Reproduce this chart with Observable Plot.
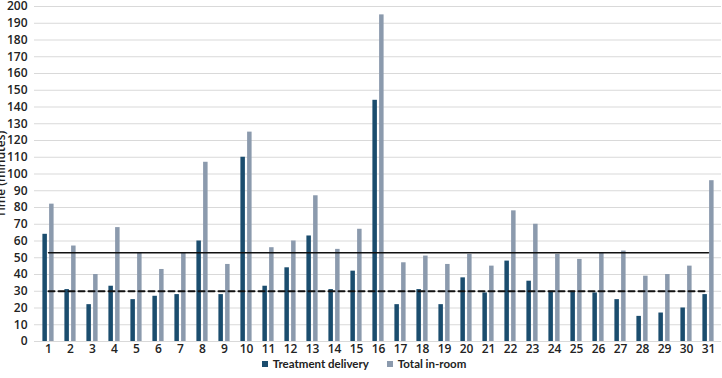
<!DOCTYPE html>
<html>
<head>
<meta charset="utf-8">
<script src="https://cdn.jsdelivr.net/npm/d3@7"></script>
<script src="https://cdn.jsdelivr.net/npm/@observablehq/plot@0.6"></script>
<style>
  html, body { margin: 0; padding: 0; background: #fff; }
  body { width: 722px; height: 378px; overflow: hidden; font-family: "Open Sans", sans-serif; }
  #legend { display: flex; justify-content: center; align-items: center; gap: 18px;
            font-family: Lato, "Open Sans", sans-serif;
            font-size: 11.5px; font-weight: 700; color: #222; line-height: 13px; margin-top: 1px; padding-left: 6px; }
  #legend .item { display: flex; align-items: center; gap: 5px; }
  #legend .sw { width: 6px; height: 6px; display: inline-block; }
</style>
</head>
<body>
<div id="chart"></div>
<div id="legend"></div>
<script>
const categories = ["1","2","3","4","5","6","7","8","9","10","11","12","13","14","15","16","17","18","19","20","21","22","23","24","25","26","27","28","29","30","31"];
const treatmentDelivery = [64,31,22,33,25,27,28,60,28,110,33,44,63,31,42,144,22,31,22,38,29,48,36,30,30,29,25,15,17,20,28];
const totalInRoom = [82,57,40,68,53,43,53,107,46,125,56,60,87,55,67,195,47,51,46,52,45,78,70,52,49,53,54,39,40,45,96];
const meanTotalInRoom = 53;
const meanTreatmentDelivery = 30;
const yTicks = [0,10,20,30,40,50,60,70,80,90,100,110,120,130,140,150,160,170,180,190,200];
const seriesNames = ["Treatment delivery", "Total in-room"];
const colors = ["#1b4d6e", "#8b9aad"];

const rows = categories.map((c, i) => ({c, t: treatmentDelivery[i], r: totalInRoom[i]}));

const chart = Plot.plot({
  width: 722,
  height: 356,
  marginLeft: 34,
  marginRight: 1,
  marginTop: 6,
  marginBottom: 15,
  x: {domain: categories, padding: 0, label: null},
  y: {domain: [0, 200], label: null},
  style: {fontFamily: "Open Sans", fontSize: "12px", fontWeight: 600, color: "#222", background: "#fff"},
  marks: [
    Plot.gridY(yTicks, {stroke: "#d9d9d9", strokeOpacity: 1}),
    Plot.barY(rows, {x: "c", y: "t", fill: colors[0], insetLeft: 5.4, insetRight: 12.1}),
    Plot.barY(rows, {x: "c", y: "r", fill: colors[1], insetLeft: 12.1, insetRight: 5.4}),
    Plot.lineY(rows, {x: "c", y: () => meanTotalInRoom, stroke: "#111", strokeWidth: 1.5}),
    Plot.lineY(rows, {x: "c", y: () => meanTreatmentDelivery, stroke: "#111", strokeWidth: 2, strokeDasharray: "6,4"}),
    Plot.axisY(yTicks, {tickSize: 0, tickPadding: 7, label: "Time (minutes)", labelAnchor: "center", labelArrow: "none", labelOffset: 38}),
    Plot.axisX({tickSize: 0, tickPadding: 3, label: null})
  ]
});
document.getElementById("chart").appendChild(chart);

const legend = document.getElementById("legend");
seriesNames.forEach((name, i) => {
  const item = document.createElement("span");
  item.className = "item";
  const sw = document.createElement("span");
  sw.className = "sw";
  sw.style.background = colors[i];
  const label = document.createElement("span");
  label.textContent = name;
  item.appendChild(sw);
  item.appendChild(label);
  legend.appendChild(item);
});
</script>
</body>
</html>
